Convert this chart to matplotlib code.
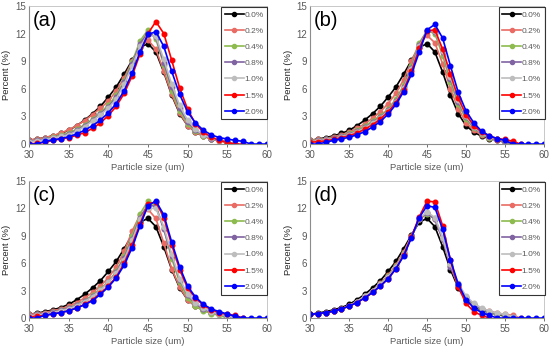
import numpy as np
import matplotlib.pyplot as plt

plt.rcParams['font.family'] = ['Liberation Sans', 'DejaVu Sans']

# particle size axis (um), series start at 30 and run as long as each list
sizes = np.arange(30, 61)
labels = ['0.0%', '0.2%', '0.4%', '0.8%', '1.0%', '1.5%', '2.0%']
colors = ['#000000', '#E96B64', '#8DBB4F', '#8064A2', '#BDBDBD', '#FF0000', '#0000FF']
panel_names = ['(a)', '(b)', '(c)', '(d)']

base = [0.40, 0.55, 0.70, 0.90, 1.15, 1.50, 2.00, 2.60, 3.30, 4.10, 5.10, 6.20, 7.60, 9.10,
        10.50, 10.90, 10.00, 7.80, 5.30, 3.30, 2.00, 1.30, 0.85, 0.60, 0.40, 0.20, 0.00]

# panel (a)
a_02 = [0.45, 0.55, 0.70, 0.90, 1.20, 1.55, 2.00, 2.55, 3.20, 3.90, 4.65, 5.80, 7.20, 9.00,
        10.60, 11.30, 10.30, 7.90, 5.40, 3.40, 2.00, 1.30, 0.85, 0.55, 0.35, 0.15, 0.00]
a_04 = [0.30, 0.40, 0.55, 0.75, 0.95, 1.20, 1.60, 2.10, 2.70, 3.40, 4.25, 5.30, 6.90, 8.90,
        11.20, 12.40, 11.40, 8.60, 5.80, 3.60, 2.20, 1.40, 0.90, 0.60, 0.40, 0.20, 0.00]
a_08 = [0.30, 0.40, 0.50, 0.70, 0.90, 1.10, 1.50, 2.00, 2.60, 3.30, 4.05, 5.10, 6.70, 8.70,
        10.90, 12.10, 11.60, 8.80, 6.20, 3.90, 2.40, 1.50, 0.95, 0.60, 0.40, 0.20, 0.00]
a_10 = [0.25, 0.35, 0.45, 0.65, 0.85, 1.00, 1.40, 1.90, 2.50, 3.20, 3.90, 4.90, 6.50, 8.50,
        10.60, 11.80, 11.70, 9.20, 6.50, 4.20, 2.60, 1.60, 1.00, 0.65, 0.40, 0.20, 0.00]
a_15 = [0.00, 0.10, 0.20, 0.40, 0.55, 0.70, 0.95, 1.25, 1.70, 2.30, 3.10, 4.10, 5.50, 7.40,
        9.80, 12.00, 13.30, 12.00, 9.10, 6.10, 3.80, 2.20, 1.30, 0.75, 0.40, 0.20, 0.00, 0.00]
a_20 = [0.00, 0.00, 0.30, 0.45, 0.60, 0.80, 1.10, 1.50, 2.00, 2.60, 3.40, 4.40, 5.80, 7.70,
        10.00, 11.90, 12.20, 10.60, 7.90, 5.40, 3.50, 2.30, 1.50, 1.00, 0.70, 0.55, 0.40, 0.30,
        0.00, 0.00, 0.00]

# panel (b)
b_02 = [0.40, 0.50, 0.60, 0.80, 1.00, 1.30, 1.70, 2.20, 2.80, 3.50, 4.40, 5.50, 7.00, 9.00,
        10.90, 11.80, 11.00, 8.70, 6.00, 3.80, 2.30, 1.50, 1.00, 0.65, 0.45, 0.25, 0.00]
b_04 = [0.35, 0.45, 0.55, 0.70, 0.90, 1.15, 1.50, 1.95, 2.50, 3.10, 3.80, 4.90, 6.40, 8.50,
        11.00, 12.30, 12.00, 9.60, 6.70, 4.30, 2.70, 1.70, 1.10, 0.70, 0.50, 0.30, 0.00]
b_08 = [0.30, 0.40, 0.50, 0.65, 0.85, 1.05, 1.40, 1.80, 2.35, 2.95, 3.65, 4.70, 6.20, 8.30,
        10.80, 12.30, 12.20, 10.00, 7.10, 4.60, 2.90, 1.80, 1.15, 0.75, 0.50, 0.35, 0.10]
b_10 = [0.25, 0.35, 0.45, 0.60, 0.80, 1.00, 1.35, 1.75, 2.25, 2.85, 3.60, 4.60, 6.10, 8.10,
        10.60, 12.30, 12.30, 10.10, 7.30, 4.80, 3.00, 1.90, 1.20, 0.80, 0.55, 0.40, 0.20]
b_15 = [0.20, 0.25, 0.35, 0.50, 0.70, 0.90, 1.20, 1.60, 2.10, 2.70, 3.50, 4.50, 5.90, 7.90,
        10.40, 12.30, 12.40, 10.30, 7.60, 5.00, 3.20, 2.00, 1.30, 0.85, 0.60, 0.50, 0.30, 0.00]
b_20 = [0.00, 0.00, 0.20, 0.40, 0.55, 0.75, 1.00, 1.35, 1.85, 2.45, 3.25, 4.30, 5.70, 7.60,
        10.00, 12.40, 13.00, 11.50, 8.50, 5.60, 3.60, 2.30, 1.40, 0.90, 0.60, 0.40, 0.00, 0.00,
        0.00, 0.00, 0.00]

# panel (c)
c_02 = [0.40, 0.50, 0.60, 0.80, 1.00, 1.30, 1.70, 2.20, 2.80, 3.50, 4.40, 5.60, 7.30, 9.50,
        11.30, 11.90, 10.90, 8.20, 5.40, 3.40, 2.00, 1.30, 0.85, 0.55, 0.40, 0.25, 0.00]
c_04 = [0.30, 0.40, 0.50, 0.65, 0.85, 1.10, 1.45, 1.90, 2.50, 3.20, 4.00, 5.10, 6.80, 9.00,
        11.40, 12.80, 12.30, 9.80, 6.50, 3.90, 2.20, 1.30, 0.80, 0.50, 0.30, 0.00]
c_08 = [0.30, 0.40, 0.50, 0.65, 0.85, 1.05, 1.40, 1.85, 2.40, 3.10, 3.90, 5.00, 6.60, 8.70,
        11.00, 12.40, 12.20, 9.70, 6.80, 4.20, 2.50, 1.60, 1.00, 0.65, 0.40, 0.20, 0.00]
c_10 = [0.25, 0.35, 0.45, 0.60, 0.80, 1.00, 1.35, 1.80, 2.35, 3.05, 3.90, 4.90, 6.40, 8.50,
        10.80, 12.00, 12.00, 10.00, 7.00, 4.30, 2.60, 1.70, 1.10, 0.70, 0.45, 0.25, 0.00]
c_15 = [0.10, 0.20, 0.30, 0.45, 0.60, 0.80, 1.10, 1.50, 2.00, 2.70, 3.50, 4.50, 6.00, 8.00,
        10.30, 12.50, 12.70, 11.00, 8.00, 5.30, 3.30, 2.20, 1.40, 0.90, 0.60, 0.40, 0.30, 0.00]
c_20 = [0.00, 0.00, 0.30, 0.45, 0.60, 0.80, 1.10, 1.45, 1.90, 2.60, 3.40, 4.40, 5.80, 7.70,
        10.10, 12.30, 12.80, 11.30, 8.30, 5.60, 3.50, 2.30, 1.50, 1.00, 0.70, 0.45, 0.20, 0.00,
        0.00, 0.00, 0.00]

# panel (d)
d_02 = [0.40, 0.50, 0.60, 0.75, 1.00, 1.35, 1.80, 2.40, 3.00, 3.80, 4.70, 5.80, 7.20, 9.00,
        10.80, 11.50, 10.80, 8.60, 5.70, 3.50, 2.10, 1.40, 1.00, 0.75, 0.55, 0.40, 0.30, 0.00]
d_04 = [0.40, 0.50, 0.60, 0.75, 1.00, 1.35, 1.80, 2.40, 3.00, 3.75, 4.60, 5.70, 7.10, 8.90,
        10.80, 11.40, 10.90, 8.80, 5.80, 3.60, 2.20, 1.40, 0.95, 0.65, 0.45, 0.30, 0.10]
d_08 = [0.40, 0.50, 0.60, 0.75, 1.00, 1.35, 1.80, 2.40, 3.00, 3.70, 4.50, 5.60, 7.00, 8.90,
        10.80, 11.50, 10.80, 8.60, 5.60, 3.60, 2.30, 1.50, 1.00, 0.70, 0.50, 0.35, 0.10]
d_10 = [0.40, 0.50, 0.60, 0.75, 1.00, 1.35, 1.80, 2.40, 3.00, 3.70, 4.50, 5.60, 7.00, 8.90,
        10.90, 11.60, 11.00, 8.80, 5.90, 3.80, 2.40, 1.60, 1.10, 0.75, 0.55, 0.40, 0.15]
d_15 = [0.40, 0.50, 0.60, 0.75, 1.00, 1.30, 1.70, 2.20, 2.80, 3.50, 4.30, 5.40, 6.90, 8.90,
        11.10, 12.80, 12.70, 10.10, 6.30, 3.40, 1.60, 0.70, 0.30, 0.00]
d_20 = [0.40, 0.50, 0.60, 0.75, 1.00, 1.30, 1.70, 2.20, 2.80, 3.50, 4.30, 5.40, 6.80, 8.80,
        11.00, 12.30, 12.10, 9.70, 6.40, 3.70, 2.00, 1.10, 0.60, 0.30, 0.00, 0.00, 0.00, 0.00,
        0.00, 0.00, 0.00]

panels = [
    [base, a_02, a_04, a_08, a_10, a_15, a_20],
    [base, b_02, b_04, b_08, b_10, b_15, b_20],
    [base, c_02, c_04, c_08, c_10, c_15, c_20],
    [base, d_02, d_04, d_08, d_10, d_15, d_20],
]

fig = plt.figure(figsize=(5.5, 3.48), dpi=100)
boxes = [
    [0.053, 0.586, 0.432, 0.397],
    [0.564, 0.586, 0.425, 0.397],
    [0.053, 0.086, 0.432, 0.394],
    [0.564, 0.086, 0.425, 0.394],
]
grey = '#595959'

for box, series, name in zip(boxes, panels, panel_names):
    ax = fig.add_axes(box)
    for y, lab, c in zip(series, labels, colors):
        ax.plot(sizes[:len(y)], y, '-o', color=c, lw=1.2, ms=3.3, label=lab)
    ax.set_xlim(30, 60)
    ax.set_ylim(0, 15)
    ax.set_xticks(range(30, 61, 5))
    ax.set_yticks(range(0, 16, 3))
    ax.tick_params(labelsize=7, colors=grey, length=2.5, width=0.6, pad=2)
    ax.tick_params(axis='y', length=0)
    for s in ['left', 'bottom']:
        ax.spines[s].set_color('#8c8c8c')
        ax.spines[s].set_linewidth(0.8)
    for s in ['top', 'right']:
        ax.spines[s].set_color('#bfbfbf')
        ax.spines[s].set_linewidth(0.6)
    ax.set_xlabel('Particle size (um)', fontsize=6.8, color=grey, labelpad=2)
    ax.set_ylabel('Percent (%)', fontsize=6.8, color='#262626', labelpad=3)
    ax.text(0.015, 0.96, name, transform=ax.transAxes, fontsize=14.5, va='top', ha='left')
    leg = ax.legend(loc='upper right', fontsize=6, frameon=True, fancybox=False,
                    borderaxespad=0.15, labelspacing=1.0, handlelength=2.2,
                    handletextpad=0.1, borderpad=0.45, markerscale=0.9,
                    bbox_to_anchor=(1.008, 1.0))
    leg.get_frame().set_edgecolor('black')
    leg.get_frame().set_linewidth(0.8)
    for t in leg.get_texts():
        t.set_color(grey)

fig.savefig('out.png', dpi=100)
